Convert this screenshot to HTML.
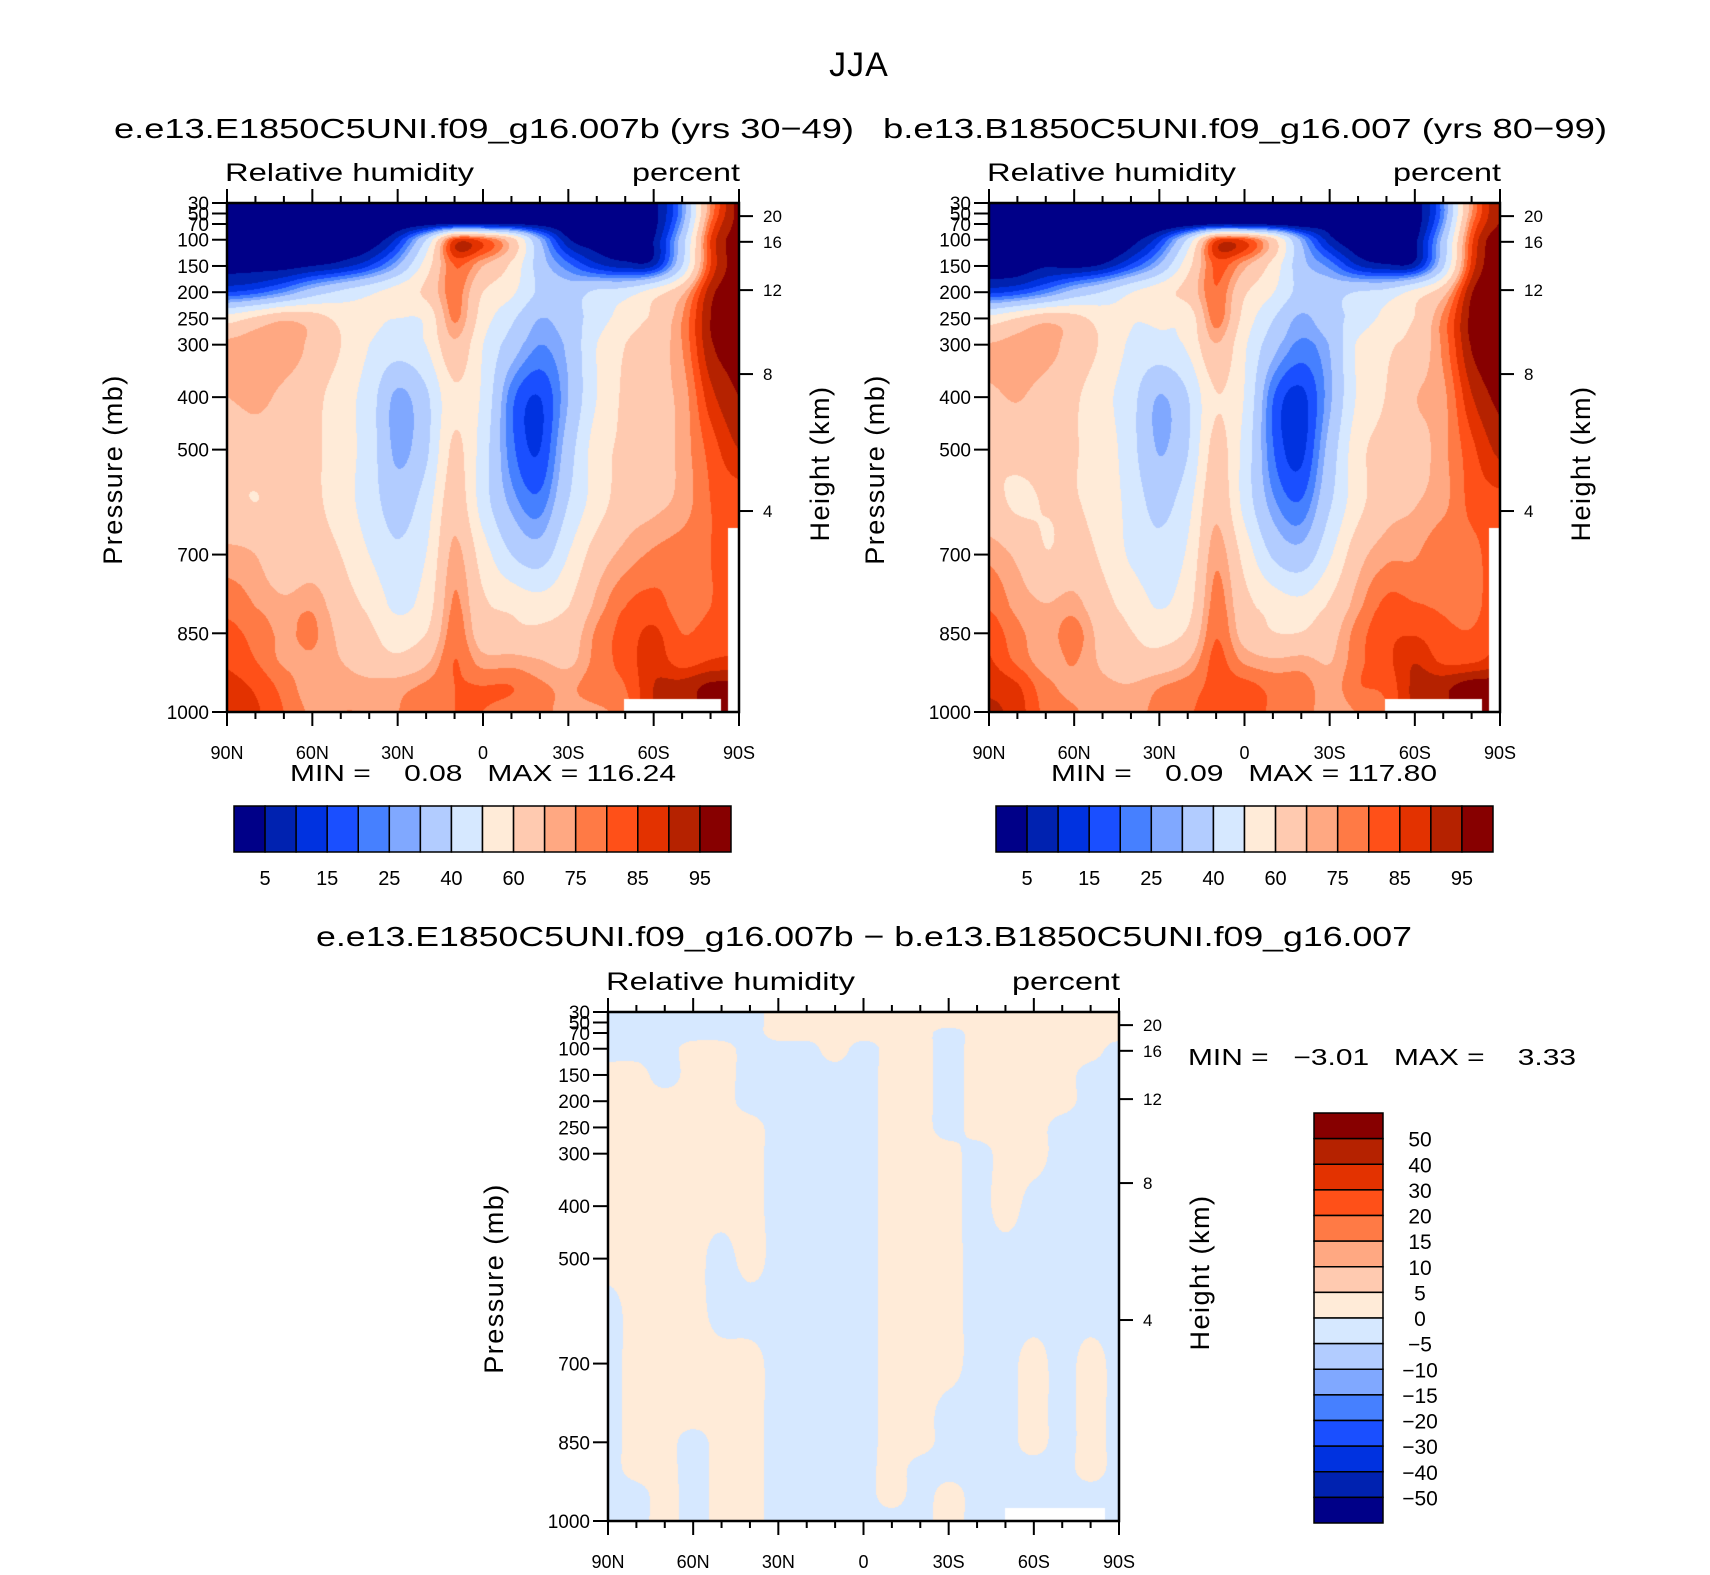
<!DOCTYPE html>
<html><head><meta charset="utf-8">
<style>
html,body{margin:0;padding:0;background:#fff;}
#wrap{position:relative;width:1710px;height:1575px;overflow:hidden;font-family:"Liberation Sans",sans-serif;}
canvas{position:absolute;}
svg{position:absolute;left:0;top:0;}
text{white-space:pre;}
</style></head>
<body>
<div id="wrap">
<canvas id="cA"></canvas>
<canvas id="cB"></canvas>
<canvas id="cC"></canvas>
<svg id="ov" width="1710" height="1575"></svg>
</div>
<script>
// ---------------- data ----------------
const lats = [90,80,70,60,50,40,30,20,10,0,-10,-20,-30,-40,-50,-60,-70,-80,-90];
const pressures = [30,50,70,100,150,200,250,300,400,500,600,700,800,850,900,950,1000];
const rhE = [
[1,1,1,1,1,1,1,1,1,1,1,1,1,1,1,3,25,75,97],
[1,1,1,1,1,1,1,1,1,1,1,1,1,1,1,3,25,76,97],
[1,1,1,1,1,1,1,3,6,6,5,3,1,1,1,3,28,80,97],
[1,1,1,1,1,1,12,40,85,82,65,30,6,2,2,5,35,85,98],
[3,3,3,5,8,15,30,55,80,70,58,35,22,12,8,10,40,85,98],
[15,18,25,35,42,48,55,62,78,60,52,38,35,42,45,55,68,93,98],
[55,62,68,65,57,52,50,52,76,55,42,30,35,45,55,62,75,95,98],
[72,74,74,68,60,50,45,50,68,50,35,25,32,50,60,65,75,94,97],
[70,72,68,63,55,45,28,38,58,48,22,15,30,50,62,68,72,88,95],
[62,65,65,62,55,45,28,38,62,45,22,15,35,55,62,65,72,82,90],
[62,60,62,62,55,45,35,45,66,45,28,22,40,55,65,68,72,80,82],
[72,70,62,65,60,50,42,50,72,55,40,35,50,65,72,76,78,80,82],
[78,75,72,74,65,58,48,55,76,62,58,55,60,72,80,82,78,80,82],
[82,78,74,76,68,62,55,60,78,65,62,62,65,76,82,86,80,82,84],
[84,80,74,74,70,65,62,68,80,72,72,70,68,77,82,88,82,85,86],
[87,84,78,72,73,72,73,76,80,80,80,76,74,78,80,90,92,96,96],
[90,86,80,74,75,75,75,78,80,80,78,76,74,74,78,90,92,96,96]];
const rhDiff = [
[-1.5,-1.5,-1.5,-1.5,-1.5,-1.5,1.5,1.5,1.5,1.5,1.5,1.5,1.5,1.5,1.5,1.5,1.5,1.5,1.5],
[-1.5,-1.5,-1.5,-1.5,-1.5,-1.5,1.5,1.5,1.5,1.5,1.5,1.5,1.5,1.5,1.5,1.5,1.5,1.5,1.5],
[-1.5,-1.5,-1.5,-1.5,-1.5,-1.5,1.5,1.5,1.5,1.5,1.5,1.5,-1.5,1.5,1.5,1.5,1.5,1.5,1.5],
[-1.5,-1.5,-1.5,1.5,1.5,-1.5,-1.5,-1.5,1.5,-1.5,1.5,1.5,-1.5,1.5,1.5,1.5,1.5,1.5,-1.5],
[1.5,1.5,-1.5,1.5,1.5,-1.5,-1.5,-1.5,-1.5,-1.5,1.5,1.5,-1.5,1.5,1.5,1.5,1.5,-1.5,-1.5],
[1.5,1.5,1.5,1.5,1.5,-1.5,-1.5,-1.5,-1.5,-1.5,1.5,1.5,-1.5,1.5,1.5,1.5,1.5,-1.5,-1.5],
[1.5,1.5,1.5,1.5,1.5,1.5,-1.5,-1.5,-1.5,-1.5,1.5,1.5,-1.5,1.5,1.5,1.5,-1.5,-1.5,-1.5],
[1.5,1.5,1.5,1.5,1.5,1.5,-1.5,-1.5,-1.5,-1.5,1.5,1.5,1.5,-1.5,1.5,1.5,-1.5,-1.5,-1.5],
[1.5,1.5,1.5,1.5,1.5,1.5,-1.5,-1.5,-1.5,-1.5,1.5,1.5,1.5,-1.5,1.5,-1.5,-1.5,-1.5,-1.5],
[1.5,1.5,1.5,1.5,-1.5,1.5,-1.5,-1.5,-1.5,-1.5,1.5,1.5,1.5,-1.5,-1.5,-1.5,-1.5,-1.5,-1.5],
[-1.5,1.5,1.5,1.5,-1.5,-1.5,-1.5,-1.5,-1.5,-1.5,1.5,1.5,1.5,-1.5,-1.5,-1.5,-1.5,-1.5,-1.5],
[-1.5,1.5,1.5,1.5,1.5,1.5,-1.5,-1.5,-1.5,-1.5,1.5,1.5,1.5,-1.5,-1.5,1.5,-1.5,1.5,-1.5],
[-1.5,1.5,1.5,1.5,1.5,1.5,-1.5,-1.5,-1.5,-1.5,1.5,1.5,-1.5,-1.5,-1.5,1.5,-1.5,1.5,-1.5],
[-1.5,1.5,1.5,-1.5,1.5,1.5,-1.5,-1.5,-1.5,-1.5,1.5,1.5,-1.5,-1.5,-1.5,1.5,-1.5,1.5,-1.5],
[-1.5,1.5,1.5,-1.5,1.5,1.5,-1.5,-1.5,-1.5,-1.5,1.5,-1.5,-1.5,-1.5,-1.5,-1.5,-1.5,1.5,-1.5],
[-1.5,-1.5,1.5,-1.5,1.5,1.5,-1.5,-1.5,-1.5,-1.5,1.5,-1.5,1.5,-1.5,-1.5,-1.5,-1.5,-1.5,-1.5],
[-1.5,-1.5,1.5,-1.5,1.5,1.5,-1.5,-1.5,-1.5,-1.5,-1.5,-1.5,1.5,-1.5,-1.5,-1.5,-1.5,-1.5,-1.5]];
// missing-data regions: [latFrom, latTo, pFrom, pTo]
const missingA = [[-49.6,-83.7,976,1000],[-86,-90,650,1000]];
const missingB = [[-49.6,-83.7,976,1000],[-86,-90,650,1000]];
const missingC = [[-50,-85,976,1000]];
const rhLevels = [5,10,15,20,25,30,40,50,60,70,75,80,85,90,95];
const rhBarLabels = ["5","15","25","40","60","75","85","95"];
const diffLevels = [-50,-40,-30,-20,-15,-10,-5,0,5,10,15,20,30,40,50];
const diffBarLabels = ["50","40","30","20","15","10","5","0","\u22125","\u221210","\u221215","\u221220","\u221230","\u221240","\u221250"];
const palette = ["#000088","#0022b0","#0032e0","#1a4fff","#4680ff","#80a8ff","#b2ccff","#d6e8ff","#ffebd8","#ffcab0","#ffa882","#ff7a45","#ff5018","#e33200","#b52200","#870000"];
const pTicks = [30,50,70,100,150,200,250,300,400,500,700,850,1000];
const hTicks = [20,16,12,8,4];
const hTickPressures = [55,104,196,356,617];
const latMajor = [90,60,30,0,-30,-60,-90];
const latMajorLabels = ["90N","60N","30N","0","30S","60S","90S"];
const minmaxA = ["0.08","116.24"], minmaxB = ["0.09","117.80"], minmaxC = ["\u22123.01","3.33"];
// ---------------- geometry ----------------
const panels = {
  A:{x0:227,y0:203,W:512,H:509},
  B:{x0:989,y0:203,W:511,H:509},
  C:{x0:608,y0:1012,W:511,H:509}
};
function xOf(P,lat){return P.x0+(90-lat)/180*P.W;}
function yOf(P,p){return P.y0+(p-30)/970*P.H;}
function hex(c){return [parseInt(c.substr(1,2),16),parseInt(c.substr(3,2),16),parseInt(c.substr(5,2),16)];}
const palRGB = palette.map(hex);
function cr(p0,p1,p2,p3,t){return 0.5*((2*p1)+(-p0+p2)*t+(2*p0-5*p1+4*p2-p3)*t*t+(-p0+3*p1-3*p2+p3)*t*t*t);}
function sample(grid,fi,fj){
  const nr=grid.length,nc=grid[0].length;
  const i=Math.min(Math.floor(fi),nr-2), j=Math.min(Math.floor(fj),nc-2);
  const ti=fi-i, tj=fj-j;
  const g=(r,c)=>grid[Math.max(0,Math.min(nr-1,r))][Math.max(0,Math.min(nc-1,c))];
  const rows=[];
  for(let r=i-1;r<=i+2;r++) rows.push(cr(g(r,j-1),g(r,j),g(r,j+1),g(r,j+2),tj));
  return cr(rows[0],rows[1],rows[2],rows[3],ti);
}
function rowIndex(p){
  for(let k=0;k<pressures.length-1;k++){
    if(p<=pressures[k+1]) return k+(p-pressures[k])/(pressures[k+1]-pressures[k]);
  }
  return pressures.length-1;
}
function levelIndex(v,levels){let k=0;while(k<levels.length&&v>=levels[k])k++;return k;}
function drawField(id,P,grid,levels,missing){
  const cv=document.getElementById(id);
  cv.width=P.W;cv.height=P.H;
  cv.style.left=P.x0+'px';cv.style.top=P.y0+'px';
  const ctx=cv.getContext('2d');
  const img=ctx.createImageData(P.W,P.H);
  const fis=[];for(let y=0;y<P.H;y++){fis.push(rowIndex(30+(y+0.5)/P.H*970));}
  for(let y=0;y<P.H;y++){
    const p=30+(y+0.5)/P.H*970;
    for(let x=0;x<P.W;x++){
      const lat=90-(x+0.5)/P.W*180;
      let miss=false;
      for(const m of missing){ if(lat<=m[0]&&lat>=m[1]&&p>=m[2]&&p<=m[3]) miss=true; }
      const o=(y*P.W+x)*4;
      if(miss){img.data[o]=255;img.data[o+1]=255;img.data[o+2]=255;img.data[o+3]=255;continue;}
      const v=sample(grid,fis[y],(x+0.5)/P.W*18);
      const c=palRGB[levelIndex(v,levels)];
      img.data[o]=c[0];img.data[o+1]=c[1];img.data[o+2]=c[2];img.data[o+3]=255;
    }
  }
  ctx.putImageData(img,0,0);
}
const rhB = rhE.map((row,i)=>row.map((v,j)=>v-rhDiff[i][j]));
drawField('cA',panels.A,rhE,rhLevels,missingA);
drawField('cB',panels.B,rhB,rhLevels,missingB);
drawField('cC',panels.C,rhDiff,diffLevels,missingC);

// ---------------- overlay ----------------
const NS='http://www.w3.org/2000/svg';
const svg=document.getElementById('ov');
function el(tag,attrs,parent){const e=document.createElementNS(NS,tag);for(const k in attrs)e.setAttribute(k,attrs[k]);(parent||svg).appendChild(e);return e;}
function txt(s,x,y,size,anchor,parent,extra){
  const t=el('text',Object.assign({x:x,y:y,'font-size':size,'text-anchor':anchor||'start','font-family':'Liberation Sans, sans-serif',fill:'#000'},extra||{}),parent);
  t.textContent=s;return t;
}
function axes(P,key){
  const g=el('g',{});
  
  
  const fr=el('rect',{x:P.x0,y:P.y0,width:P.W,height:P.H,fill:'none',stroke:'#000','stroke-width':2.5},g);
  
  
  for(let lat=90;lat>=-90;lat-=10){
    const x=xOf(P,lat);const major=(lat%30===0);const L=major?14:7;
    el('line',{x1:x,y1:P.y0+P.H,x2:x,y2:P.y0+P.H+L,stroke:'#000','stroke-width':2},g);
    el('line',{x1:x,y1:P.y0,x2:x,y2:P.y0-L,stroke:'#000','stroke-width':2},g);
  }
  latMajor.forEach((lat,i)=>{
    const t=txt(latMajorLabels[i],xOf(P,lat),P.y0+P.H+47,18,'middle',g);
    
    
  });
  pTicks.forEach(p=>{
    const y=yOf(P,p);
    el('line',{x1:P.x0-15,y1:y,x2:P.x0,y2:y,stroke:'#000','stroke-width':2},g);
    const t=txt(String(p),P.x0-18,y+7,19,'end',g);
    
    
  });
  hTicks.forEach((h,i)=>{
    const y=yOf(P,hTickPressures[i]);
    el('line',{x1:P.x0+P.W,y1:y,x2:P.x0+P.W+14,y2:y,stroke:'#000','stroke-width':2},g);
    const t=txt(String(h),P.x0+P.W+24,y+6,17,'start',g);
    
    
  });
  const cy=P.y0+P.H/2+12;
  const yl=txt('Pressure (mb)',0,0,27,'middle',g,{transform:`translate(${P.x0-105},${cy}) rotate(-90)`,'letter-spacing':'1.5'});
  
  
  const yr=txt('Height (km)',0,0,27,'middle',g,{transform:`translate(${P.x0+P.W+90},${cy-6}) rotate(-90)`,'letter-spacing':'1.5'});
  
  
  const lt=txt('Relative humidity',P.x0-2,P.y0-22,25,'start',g,{textLength:249,lengthAdjust:'spacingAndGlyphs'});
  
  
  const rt=txt('percent',P.x0+P.W+1,P.y0-22,25,'end',g,{textLength:108,lengthAdjust:'spacingAndGlyphs'});
  
  
}
axes(panels.A,'e1850');axes(panels.B,'b1850');axes(panels.C,'diff');

const t0=txt('JJA',859,76,34,'middle',svg,{'letter-spacing':'1'});


const t1=txt('e.e13.E1850C5UNI.f09_g16.007b (yrs 30\u221249)',114,138,28,'start',svg,{textLength:740,lengthAdjust:'spacingAndGlyphs'});


const t2=txt('b.e13.B1850C5UNI.f09_g16.007 (yrs 80\u221299)',883,138,28,'start',svg,{textLength:724,lengthAdjust:'spacingAndGlyphs'});


const t3=txt('e.e13.E1850C5UNI.f09_g16.007b \u2212 b.e13.B1850C5UNI.f09_g16.007',316,946,28,'start',svg,{textLength:1096,lengthAdjust:'spacingAndGlyphs'});



function minmax(vals,x,y,w){
  const t=txt(`MIN =    ${vals[0]}   MAX = ${vals[1]}`,x,y,23,'start',svg,{textLength:w,lengthAdjust:'spacingAndGlyphs'});
  
  
}
minmax(minmaxA,290,781,386);
minmax(minmaxB,1051,781,386);
{
  const t=txt(`MIN =   ${minmaxC[0]}   MAX =    ${minmaxC[1]}`,1188,1065,23,'start',svg,{textLength:388,lengthAdjust:'spacingAndGlyphs'});
  
  
}
function hbar(x0,x1,y0,y1,key){
  const g=el('g',{});
  
  
  const w=(x1-x0)/palette.length;
  palette.forEach((c,i)=>{
    const r=el('rect',{x:x0+i*w,y:y0,width:w,height:y1-y0,fill:c,stroke:'#000','stroke-width':1.5},g);
    
    
  });
  rhBarLabels.forEach((s,k)=>{
    const t=txt(s,x0+(2*k+1)*w,y1+33,20,'middle',g);
    
    
  });
}
hbar(234,731,806,852,'left');
hbar(996,1493,806,852,'right');
{
  const g=el('g',{});
  
  
  const y0=1113,y1=1523,x0=1314,x1=1383,h=(y1-y0)/palette.length;
  palette.slice().reverse().forEach((c,i)=>{
    const r=el('rect',{x:x0,y:y0+i*h,width:x1-x0,height:h,fill:c,stroke:'#000','stroke-width':1.5},g);
    
    
  });
  diffBarLabels.forEach((s,k)=>{
    const t=txt(s,1420,y0+(k+1)*h+8,21,'middle',g);
    
    
  });
}
</script>
</body></html>
